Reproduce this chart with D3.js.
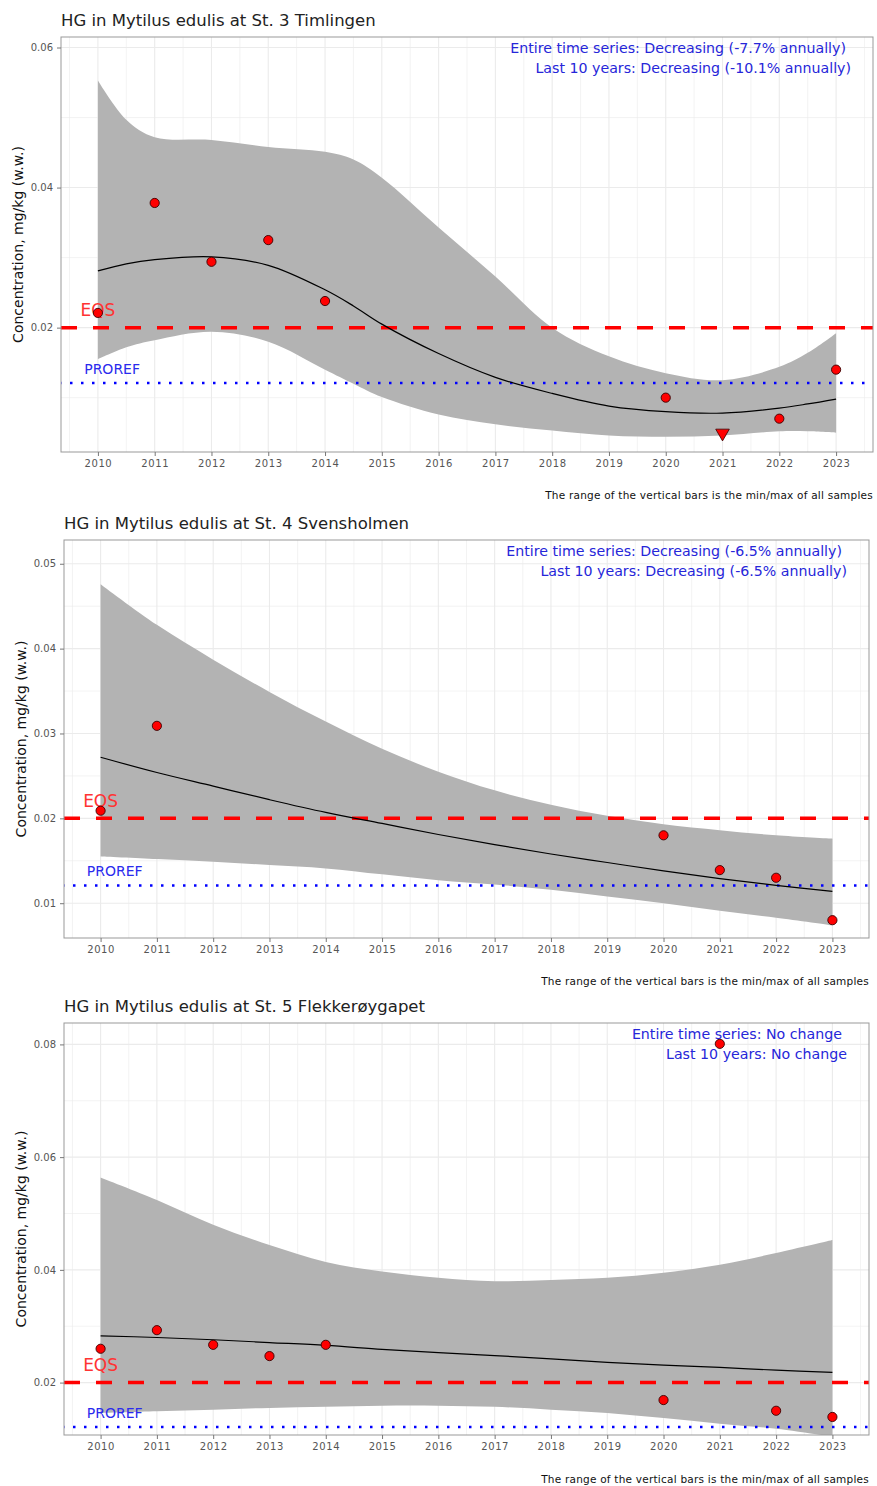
<!DOCTYPE html>
<html lang="en">

<head>
  <meta charset="UTF-8">
  <title>HG in Mytilus edulis</title>
  <script src="https://d3js.org/d3.v7.min.js"></script>
  <style>
    body { margin: 0; background: #fff; }
    text { font-family: 'DejaVu Sans', sans-serif; }
  </style>
</head>

<body>

  <script>
    // common
    const xTicks = [2010, 2011, 2012, 2013, 2014, 2015, 2016, 2017, 2018, 2019, 2020, 2021, 2022, 2023];
    const eqs = 0.02;
    const proref = 0.0121;
    const caption = 'The range of the vertical bars is the min/max of all samples';

    // St. 3 Timlingen
    const title1 = 'HG in Mytilus edulis at St. 3 Timlingen';
    const trend1 = ['Entire time series: Decreasing (-7.7% annually)', 'Last 10 years: Decreasing (-10.1% annually)'];
    const yTicks1 = [0.02, 0.04, 0.06];
    const sampleYears1 = [2010, 2011, 2012, 2013, 2014, 2020, 2021, 2022, 2023];
    const conc1 = [0.0221, 0.0378, 0.0294, 0.0325, 0.0238, 0.0100, 0.0048, 0.0070, 0.0140];
    const belowLoq1 = [false, false, false, false, false, false, true, false, false];
    const fitYears1 = [2010, 2010.5, 2011, 2012, 2013, 2014, 2014.5, 2015, 2016, 2017, 2018, 2019, 2020, 2021, 2022, 2022.5, 2023];
    const fit1 = [0.0281, 0.0291, 0.0297, 0.0301, 0.0289, 0.0254, 0.0231, 0.0205, 0.0163, 0.0129, 0.0106, 0.0088, 0.0080, 0.0078, 0.0085, 0.0091, 0.0098];
    const upper1 = [0.0553, 0.0497, 0.0472, 0.0468, 0.0458, 0.0451, 0.0440, 0.0414, 0.0343, 0.0273, 0.0200, 0.0159, 0.0135, 0.0125, 0.0144, 0.0164, 0.0192];
    const lower1 = [0.0155, 0.0172, 0.0182, 0.0194, 0.0180, 0.0140, 0.0120, 0.0101, 0.0076, 0.0062, 0.0053, 0.0046, 0.0044, 0.0046, 0.0052, 0.0052, 0.0050];

    // St. 4 Svensholmen
    const title2 = 'HG in Mytilus edulis at St. 4 Svensholmen';
    const trend2 = ['Entire time series: Decreasing (-6.5% annually)', 'Last 10 years: Decreasing (-6.5% annually)'];
    const yTicks2 = [0.01, 0.02, 0.03, 0.04, 0.05];
    const sampleYears2 = [2010, 2011, 2020, 2021, 2022, 2023];
    const conc2 = [0.0209, 0.0309, 0.0180, 0.0139, 0.0130, 0.0080];
    const belowLoq2 = [false, false, false, false, false, false];
    const fitYears2 = [2010, 2011, 2012, 2013, 2014, 2015, 2016, 2017, 2018, 2019, 2020, 2021, 2022, 2023];
    const fit2 = [0.0272, 0.0254, 0.0238, 0.0222, 0.0207, 0.0194, 0.0181, 0.0169, 0.0158, 0.0148, 0.0138, 0.0129, 0.0121, 0.0114];
    const upper2 = [0.0476, 0.0428, 0.0387, 0.0349, 0.0314, 0.0282, 0.0255, 0.0233, 0.0216, 0.0203, 0.0193, 0.0186, 0.0180, 0.0176];
    const lower2 = [0.0155, 0.0152, 0.0149, 0.0145, 0.0141, 0.0134, 0.0127, 0.0122, 0.0116, 0.0108, 0.0100, 0.0091, 0.0083, 0.0074];

    // St. 5 Flekkerøygapet
    const title3 = 'HG in Mytilus edulis at St. 5 Flekkerøygapet';
    const trend3 = ['Entire time series: No change', 'Last 10 years: No change'];
    const yTicks3 = [0.02, 0.04, 0.06, 0.08];
    const sampleYears3 = [2010, 2011, 2012, 2013, 2014, 2020, 2021, 2022, 2023];
    const conc3 = [0.0260, 0.0293, 0.0267, 0.0247, 0.0267, 0.0169, 0.0801, 0.0150, 0.0139];
    const belowLoq3 = [false, false, false, false, false, false, false, false, false];
    const fitYears3 = [2010, 2011, 2012, 2013, 2014, 2015, 2016, 2017, 2018, 2019, 2020, 2021, 2022, 2023];
    const fit3 = [0.0283, 0.0280, 0.0276, 0.0271, 0.0266, 0.0259, 0.0253, 0.0248, 0.0242, 0.0236, 0.0231, 0.0227, 0.0222, 0.0218];
    const upper3 = [0.0564, 0.0524, 0.0480, 0.0444, 0.0414, 0.0397, 0.0386, 0.0380, 0.0382, 0.0386, 0.0395, 0.0409, 0.0430, 0.0453];
    const lower3 = [0.0146, 0.0149, 0.0152, 0.0155, 0.0157, 0.0159, 0.0159, 0.0157, 0.0152, 0.0146, 0.0137, 0.0127, 0.0118, 0.0104];

    const panels = [
      { id: 1, title: title1, trend: trend1, yTicks: yTicks1, yDomain: [0.00224, 0.0615],
        left: 61, right: 873, top: 37, bottom: 452, captionY: 499,
        years: sampleYears1, conc: conc1, loq: belowLoq1, fitYears: fitYears1, fit: fit1, upper: upper1, lower: lower1 },
      { id: 2, title: title2, trend: trend2, yTicks: yTicks2, yDomain: [0.0059, 0.0528],
        left: 64, right: 869, top: 540, bottom: 938, captionY: 985,
        years: sampleYears2, conc: conc2, loq: belowLoq2, fitYears: fitYears2, fit: fit2, upper: upper2, lower: lower2 },
      { id: 3, title: title3, trend: trend3, yTicks: yTicks3, yDomain: [0.0107, 0.0838],
        left: 64, right: 869, top: 1023, bottom: 1435, captionY: 1483,
        years: sampleYears3, conc: conc3, loq: belowLoq3, fitYears: fitYears3, fit: fit3, upper: upper3, lower: lower3 },
    ];

    const svg = d3.select('body').append('svg')
      .attr('width', 877)
      .attr('height', 1486);

    const smooth = d3.curveCatmullRom.alpha(0.5);

    function drawPanel(p) {
      const x = d3.scaleLinear().domain([2009.35, 2023.65]).range([p.left, p.right]);
      const y = d3.scaleLinear().domain(p.yDomain).range([p.bottom, p.top]);
      const g = svg.append('g');

      svg.append('clipPath').attr('id', 'clip' + p.id)
        .append('rect')
        .attr('x', p.left).attr('y', p.top)
        .attr('width', p.right - p.left).attr('height', p.bottom - p.top);

      // grid lines
      const step = p.yTicks[1] - p.yTicks[0];
      const yMinor = p.yTicks.map(t => t - step / 2).concat([p.yTicks[p.yTicks.length - 1] + step / 2])
        .filter(v => v > p.yDomain[0] && v < p.yDomain[1]);
      const xMinor = xTicks.map(t => t - 0.5).concat([2023.5]);
      const grid = g.append('g').attr('stroke', '#ebebeb');
      xMinor.forEach(v => grid.append('line').attr('x1', x(v)).attr('x2', x(v)).attr('y1', p.top).attr('y2', p.bottom).attr('stroke-width', 0.6));
      xTicks.forEach(v => grid.append('line').attr('x1', x(v)).attr('x2', x(v)).attr('y1', p.top).attr('y2', p.bottom).attr('stroke-width', 1.1));
      yMinor.forEach(v => grid.append('line').attr('y1', y(v)).attr('y2', y(v)).attr('x1', p.left).attr('x2', p.right).attr('stroke-width', 0.6));
      p.yTicks.forEach(v => grid.append('line').attr('y1', y(v)).attr('y2', y(v)).attr('x1', p.left).attr('x2', p.right).attr('stroke-width', 1.1));

      const plot = g.append('g').attr('clip-path', `url(#clip${p.id})`);
      const fitData = p.fitYears.map((yr, i) => ({ year: yr, fit: p.fit[i], hi: p.upper[i], lo: p.lower[i] }));

      // confidence band
      plot.append('path')
        .datum(fitData)
        .attr('fill', '#b3b3b3')
        .attr('d', d3.area().x(d => x(d.year)).y0(d => y(d.lo)).y1(d => y(d.hi)).curve(smooth));

      // EQS and PROREF
      plot.append('line')
        .attr('x1', p.left).attr('x2', p.right).attr('y1', y(eqs)).attr('y2', y(eqs))
        .attr('stroke', '#ff0000').attr('stroke-width', 3.5).attr('stroke-dasharray', '16 16');
      plot.append('line')
        .attr('x1', p.left).attr('x2', p.right).attr('y1', y(proref)).attr('y2', y(proref))
        .attr('stroke', '#0000ff').attr('stroke-width', 2.5).attr('stroke-dasharray', '2.5 8.5')
        .attr('stroke-dashoffset', -9);

      // fitted line
      plot.append('path')
        .datum(fitData)
        .attr('fill', 'none')
        .attr('stroke', '#000')
        .attr('stroke-width', 1.2)
        .attr('d', d3.line().x(d => x(d.year)).y(d => y(d.fit)).curve(smooth));

      g.append('text').text('EQS')
        .attr('x', x(2010)).attr('y', y(eqs) - 11.5)
        .attr('text-anchor', 'middle').attr('font-size', '17px').attr('fill', '#f33');
      g.append('text').text('PROREF')
        .attr('x', x(2010.25)).attr('y', y(proref) - 9)
        .attr('text-anchor', 'middle').attr('font-size', '14px').attr('fill', '#2a2aee');

      // points
      p.years.forEach((yr, i) => {
        if (p.loq[i]) {
          g.append('path')
            .attr('d', d3.symbol().type(d3.symbolTriangle).size(80)())
            .attr('transform', `translate(${x(yr)}, ${y(p.conc[i]) - 1}) rotate(180)`)
            .attr('fill', 'red').attr('stroke', '#3a0000').attr('stroke-width', 0.8);
        } else {
          g.append('circle')
            .attr('cx', x(yr)).attr('cy', y(p.conc[i])).attr('r', 4.6)
            .attr('fill', 'red').attr('stroke', '#3a0000').attr('stroke-width', 0.9);
        }
      });

      // panel border
      g.append('rect')
        .attr('x', p.left).attr('y', p.top)
        .attr('width', p.right - p.left).attr('height', p.bottom - p.top)
        .attr('fill', 'none').attr('stroke', '#999').attr('stroke-width', 1);

      // axes
      const yAxis = d3.axisLeft(y).tickValues(p.yTicks).tickFormat(d3.format('.2f')).tickSize(4).tickPadding(4);
      const ya = g.append('g').attr('transform', `translate(${p.left}, 0)`).call(yAxis);
      const xAxis = d3.axisBottom(x).tickValues(xTicks).tickFormat(d3.format('d')).tickSize(4).tickPadding(4);
      const xa = g.append('g').attr('transform', `translate(0, ${p.bottom})`).call(xAxis);
      [ya, xa].forEach(a => {
        a.select('.domain').remove();
        a.selectAll('.tick line').attr('stroke', '#777');
        a.selectAll('.tick text').attr('fill', '#555').attr('font-size', '10px')
          .attr('font-family', 'DejaVu Sans, sans-serif');
      });
      xa.selectAll('.tick text').attr('letter-spacing', '0.6px');

      // texts
      g.append('text').text(p.title)
        .attr('x', p.left).attr('y', p.top - 11)
        .attr('font-size', '16.5px').attr('fill', '#222');
      g.append('text').text('Concentration, mg/kg (w.w.)')
        .attr('transform', `translate(${p.left - 38}, ${(p.top + p.bottom) / 2}) rotate(-90)`)
        .attr('text-anchor', 'middle').attr('font-size', '14px').attr('fill', '#111');
      g.append('text').text(caption)
        .attr('x', p.right).attr('y', p.captionY)
        .attr('text-anchor', 'end').attr('font-size', '10.5px').attr('letter-spacing', '0.23px')
        .attr('fill', '#111');
      p.trend.forEach((t, i) => {
        g.append('text').text(t)
          .attr('x', p.right - (i === 0 ? 27 : 22)).attr('y', p.top + 15.5 + i * 20)
          .attr('text-anchor', 'end').attr('font-size', '14.2px').attr('fill', '#2626d9');
      });
    }

    panels.forEach(drawPanel);
  </script>
</body>

</html>
